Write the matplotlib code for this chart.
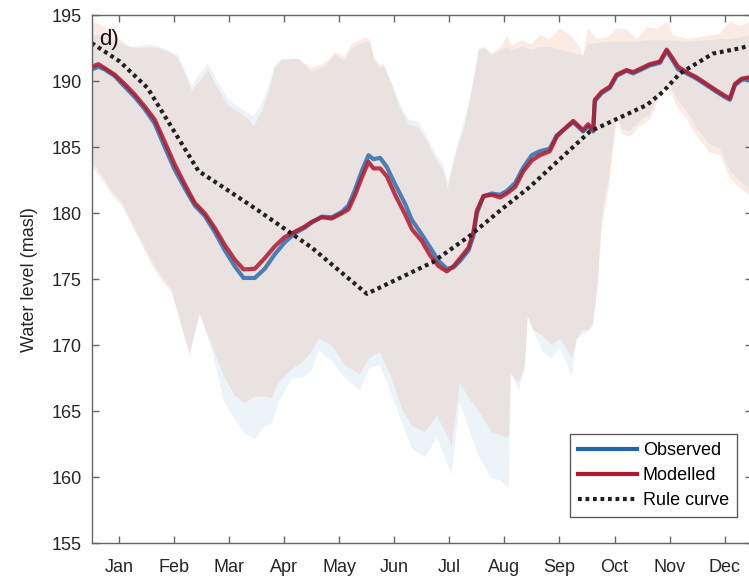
import numpy as np
import matplotlib
matplotlib.use("Agg")
import matplotlib.pyplot as plt

plt.rcParams['font.family'] = ['Liberation Sans', 'DejaVu Sans']

# ---- data -----------------------------------------------------------------
months = ["Jan", "Feb", "Mar", "Apr", "May", "Jun",
          "Jul", "Aug", "Sep", "Oct", "Nov", "Dec"]
y_ticks = [155, 160, 165, 170, 175, 180, 185, 190, 195]

# daily water level lines (day of year)
line_day = [0, 3.7, 7.2, 12.8, 18.3, 23.9, 29.4, 35, 40.6, 46.1, 51.7, 57.2, 62.8,
            68.3, 73.9, 79.4, 84.3, 90.6, 96.1, 101.7, 107.2, 112.8, 118.3, 122.2,
            127.8, 133.3, 138.9, 142.6, 146.3, 150, 153.7, 156.5, 160.2, 163.9, 168.5,
            174.1, 177.8, 183.3, 188, 192.6, 197.2, 201, 204.6, 209.3, 212, 213.9,
            217.6, 222.2, 226.8, 230.6, 235.2, 239.8, 244.4, 248.9, 254.4, 258.2,
            261.8, 267.4, 272.9, 275.7, 278.5, 279.4, 283.2, 287.8, 291.5, 297, 300.7,
            305.4, 310, 315.6, 319.3, 322.1, 325.7, 330.4, 335.9, 341.5, 347, 351.7,
            354.4, 357.2, 360.9, 365]
modelled = [191.1, 191.3, 191.0, 190.5, 189.8, 189.0, 188.1, 187.1, 185.4, 183.7, 182.2,
            180.8, 180.0, 178.9, 177.6, 176.5, 175.75, 175.8, 176.6, 177.5, 178.2, 178.6,
            179.0, 179.35, 179.7, 179.6, 180.0, 180.3, 181.4, 182.7, 183.9, 183.4, 183.4,
            182.8, 181.4, 179.9, 178.8, 177.9, 176.8, 176.0, 175.6, 176.0, 176.6, 177.4,
            178.6, 180.2, 181.3, 181.4, 181.2, 181.5, 182.0, 183.2, 184.0, 184.4, 184.7,
            185.8, 186.3, 187.0, 186.3, 186.75, 186.3, 188.6, 189.2, 189.6, 190.5, 190.85,
            190.7, 191.0, 191.3, 191.5, 192.4, 191.85, 191.1, 190.7, 190.3, 189.8, 189.3,
            188.9, 188.7, 189.8, 190.2, 190.3]
observed = [190.9, 191.1, 190.9, 190.4, 189.6, 188.8, 187.9, 186.8, 185.0, 183.3, 181.9,
            180.6, 179.8, 178.6, 177.2, 176.0, 175.1, 175.1, 175.8, 176.9, 177.8, 178.5,
            178.9, 179.3, 179.75, 179.7, 180.1, 180.6, 181.8, 183.2, 184.4, 184.1, 184.2,
            183.5, 182.2, 180.7, 179.5, 178.4, 177.4, 176.4, 175.8, 175.9, 176.4, 177.2,
            178.3, 180.0, 181.3, 181.5, 181.4, 181.7, 182.3, 183.5, 184.4, 184.7, 184.9,
            185.9, 186.3, 186.9, 186.2, 186.6, 186.2, 188.5, 189.1, 189.5, 190.4, 190.8,
            190.6, 190.9, 191.2, 191.4, 192.3, 191.7, 190.9, 190.6, 190.2, 189.7, 189.2,
            188.8, 188.6, 189.7, 190.1, 190.2]

rule_day = [0, 15.6, 31, 59.3, 73.9, 92.6, 122.2, 152.8, 189.4, 210, 226.7, 243.3,
            276.7, 308.2, 317.2, 326.7, 345, 360, 365]
rule_curve = [192.9, 191.5, 189.5, 183.2, 181.9, 180.2, 177.4, 173.9, 176.3, 178.3,
              180.2, 182.0, 186.2, 188.2, 189.2, 190.6, 192.1, 192.5, 192.7]

# upper envelopes of the historical ranges
hi_day = [0, 4.4, 10, 15.6, 21.1, 26.7, 32.2, 37.8, 43.3, 47.8, 51.7, 55.6, 60, 64.4,
          70, 75.6, 81.1, 86.7, 90, 94.4, 98.3, 101.7, 105.6, 115, 122.2, 129.4, 135,
          140.6, 144.4, 151.7, 154.4, 156.7, 159.4, 162.2, 166.7, 171.1, 176.1, 181.7,
          186.1, 190.6, 195.6, 197.8, 201.7, 206.7, 210, 212.8, 215, 218.3, 222.2,
          227.8, 230.6, 233.3, 238.9, 244.4, 248.9, 254.4, 260, 265.6, 271.1, 272.8,
          275.6, 280.6, 286.1, 291.7, 297.2, 302.8, 308.3, 313.9, 320, 322.8, 330.6,
          339.4, 348.9, 354.4, 360, 365]
mod_hi = [194.6, 194.3, 193.9, 193.2, 192.6, 192.5, 192.6, 192.5, 192.2, 191.8, 190.6,
          189.3, 190.0, 190.9, 189.5, 188.2, 187.7, 187.2, 186.6, 187.7, 189.2, 191.0,
          191.6, 191.7, 191.0, 191.4, 192.2, 191.9, 192.8, 193.3, 193.2, 191.9, 191.3,
          191.3, 189.7, 188.0, 186.7, 186.5, 185.5, 184.2, 183.2, 181.9, 184.2, 186.5,
          188.5, 190.5, 192.4, 192.5, 192.1, 192.7, 193.5, 192.7, 193.1, 192.8, 193.5,
          193.2, 194.0, 193.5, 192.6, 191.8, 194.0, 193.2, 193.3, 194.0, 193.9, 193.2,
          194.1, 194.0, 194.5, 193.5, 193.2, 193.4, 193.6, 194.5, 194.2, 194.5]
obs_hi = [193.5, 193.5, 193.3, 192.9, 192.6, 192.7, 192.8, 192.6, 192.3, 192.0, 190.9,
          189.7, 190.6, 191.35, 190.0, 188.7, 188.1, 187.6, 187.4, 188.3, 189.7, 191.2,
          191.7, 191.7, 190.7, 191.1, 192.0, 191.6, 192.5, 193.0, 193.0, 191.7, 191.0,
          191.2, 189.9, 188.3, 187.1, 186.9, 185.9, 184.6, 183.6, 182.3, 184.6, 186.9,
          188.8, 190.8, 192.5, 192.6, 192.0, 192.4, 192.6, 192.4, 192.6, 192.4, 192.6,
          192.6, 192.4, 192.2, 192.0, 192.0, 192.8, 192.9, 193.0, 193.0, 193.0, 193.0,
          193.1, 193.1, 193.1, 193.1, 193.0, 193.1, 193.2, 193.2, 193.3, 193.5]

# lower envelopes of the historical ranges
lo_day = [0, 5.6, 11.1, 16.7, 22.2, 27.8, 33.3, 39.4, 44.4, 50, 54.4, 60, 66.7, 73.3,
          79.4, 85, 90.6, 96.1, 100, 103.9, 111.1, 116.7, 122.2, 126.1, 133.3, 140.6,
          148.9, 153.9, 160, 166.7, 172.2, 177.8, 185, 191.7, 200, 204.4, 209.4, 215,
          222.2, 226.7, 231.7, 232.8, 237.2, 240.6, 242.2, 245, 250.6, 255.6, 260,
          263.9, 266.7, 269.4, 272.8, 275.6, 278.3, 281.1, 283.3, 286.7, 291.7, 294.4,
          298.9, 304.4, 310, 313.9, 319.4, 325, 330.6, 336.1, 343.3, 348.9, 354.4, 360,
          365]
mod_lo = [183.6, 182.6, 181.4, 180.6, 179.1, 177.6, 176.1, 174.8, 174.0, 171.5, 169.4,
          172.4, 170.0, 167.7, 166.2, 165.6, 166.1, 166.1, 166.0, 167.2, 168.2, 168.7,
          169.5, 170.5, 170.0, 168.5, 167.8, 169.0, 169.5, 167.5, 165.2, 163.9, 163.4,
          164.7, 162.4, 167.2, 166.0, 165.0, 163.4, 163.2, 163.0, 167.8, 167.2, 168.5,
          172.2, 171.2, 170.7, 170.0, 170.5, 169.7, 169.0, 170.5, 171.2, 171.1, 171.5,
          174.7, 179.0, 181.5, 187.2, 186.0, 185.8, 186.6, 187.1, 188.3, 189.8, 188.1,
          187.1, 185.8, 184.6, 184.4, 182.7, 181.9, 181.4]
obs_lo = [183.9, 182.9, 181.7, 180.9, 179.4, 177.9, 176.4, 175.1, 174.2, 171.3, 169.2,
          172.4, 169.7, 165.8, 164.4, 163.3, 162.9, 163.9, 164.1, 165.7, 167.5, 167.5,
          168.1, 169.6, 168.8, 167.5, 166.6, 168.2, 168.5, 166.2, 164.2, 162.2, 161.5,
          163.0, 160.2, 165.7, 163.7, 161.6, 159.9, 159.8, 159.2, 167.8, 166.6, 168.2,
          172.2, 171.2, 169.5, 169.0, 169.8, 168.6, 167.6, 170.5, 170.8, 171.0, 171.5,
          174.8, 179.9, 182.4, 187.7, 186.4, 186.2, 187.0, 187.5, 188.7, 190.1, 188.7,
          187.7, 186.4, 185.2, 184.9, 183.2, 182.4, 181.9]

# ---- figure -----------------------------------------------------------------
W, H = 749, 581
fig = plt.figure(figsize=(W / 100, H / 100), dpi=100)
left_px, right_px, top_px, bot_px = 91.7, 752.0, 15.3, 543.3
ax = fig.add_axes([left_px / W, 1 - bot_px / H,
                   (right_px - left_px) / W, (bot_px - top_px) / H])

blue = "#2166ac"
red = "#b2182b"

# envelope polygons: upper edge forward, lower edge backward
def envelope(hi, lo):
    xs = np.concatenate([hi_day, lo_day[::-1]])
    ys = np.concatenate([hi, lo[::-1]])
    return xs, ys

xs, ys = envelope(obs_hi, obs_lo)
ax.fill(xs, ys, color="#0072bd", alpha=0.075, lw=0)
xs, ys = envelope(mod_hi, mod_lo)
ax.fill(xs, ys, color="#e06e3c", alpha=0.13, lw=0)

ax.plot(line_day, observed, color=blue, lw=3.0, alpha=0.8, label="Observed",
        solid_joinstyle="round")
ax.plot(line_day, modelled, color=red, lw=3.0, alpha=0.85, label="Modelled",
        solid_joinstyle="round")
ax.plot(rule_day, rule_curve, color="#231f20", lw=3.0, linestyle=(0, (0.9, 0.9)),
        label="Rule curve")

ax.set_xlim(0, 366.7)
ax.set_ylim(155, 195)
ax.set_xticks(15.3 + 30.56 * np.arange(12))
ax.set_xticklabels(months)
ax.set_yticks(y_ticks)
ax.tick_params(direction="in", length=5, width=1, colors="#666666",
               labelcolor="#262626", labelsize=13, top=True, right=True)
ax.tick_params(axis="y", pad=7)
ax.tick_params(axis="x", pad=11)
for s in ax.spines.values():
    s.set_color("#666666")
    s.set_linewidth(1)

ax.set_ylabel("Water level (masl)", fontsize=13, color="#262626", labelpad=10)
ax.text(0.012, 0.975, "d)", transform=ax.transAxes, fontsize=16, va="top",
        ha="left", color="#111111")

leg = ax.legend(loc="lower right", bbox_to_anchor=((737 - left_px) / (right_px - left_px),
                (bot_px - 517.3) / (bot_px - top_px)),
                fontsize=13, frameon=True, fancybox=False, handlelength=3.3,
                borderpad=0.45, labelspacing=0.45, handletextpad=0.3,
                borderaxespad=0)
leg.get_frame().set_edgecolor("#333333")
leg.get_frame().set_linewidth(1)
for h in leg.legend_handles:
    h.set_alpha(1)

fig.savefig("out.png", dpi=100)
